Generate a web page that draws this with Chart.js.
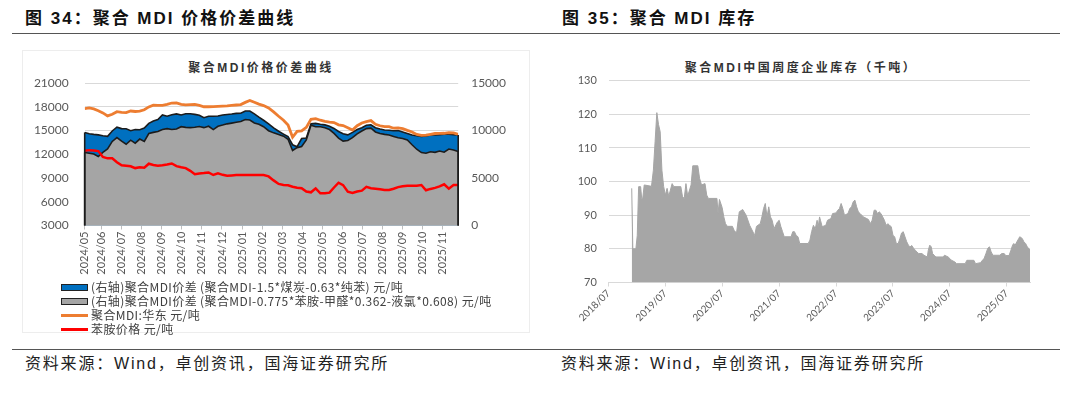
<!DOCTYPE html>
<html><head><meta charset="utf-8">
<script src="https://cdn.jsdelivr.net/npm/chart.js@4.4.1/dist/chart.umd.min.js"></script>
<style>
html,body{margin:0;padding:0;background:#fff;}
body{width:1080px;height:396px;position:relative;overflow:hidden;font-family:"Noto Sans CJK SC",sans-serif;}
.abs{position:absolute;white-space:nowrap;}
.ptitle{font-family:"Liberation Sans","Noto Sans CJK SC",sans-serif;font-weight:700;font-size:17px;line-height:20px;letter-spacing:2px;color:#111;top:9px;}
.rule{position:absolute;left:12px;width:1048px;height:0;border-top:1.5px solid #555;}
.ctitle{font-family:"Liberation Sans","Noto Sans CJK SC",sans-serif;font-weight:700;font-size:12px;line-height:14px;letter-spacing:2.5px;color:#333;top:61px;transform:translateX(-50%);}
.src{font-family:"Liberation Sans","Noto Sans CJK SC",sans-serif;font-size:16px;line-height:20px;letter-spacing:1.8px;color:#222;top:354px;}
.leg{left:61px;top:280px;font-size:12px;line-height:14px;letter-spacing:0.4px;color:#404040;}
.row{height:14px;display:flex;align-items:center;white-space:nowrap;}
.box{width:27px;height:7px;box-sizing:border-box;border:1.5px solid #222;margin-right:3px;}
.ln{width:27px;height:3px;margin-right:3px;}
canvas{position:absolute;}
</style></head>
<body>
<div class="abs ptitle" style="left:25px;">图 34：聚合 MDI 价格价差曲线</div>
<div class="abs ptitle" style="left:562px;">图 35：聚合 MDI 库存</div>
<div class="rule" style="top:33px;"></div>
<div class="abs" style="left:22px;top:50px;width:508px;height:283px;border:1px solid #ededed;box-sizing:border-box;"></div>
<div class="abs ctitle" style="left:261px;">聚合MDI价格价差曲线</div>
<div class="abs ctitle" style="left:801px;">聚合MDI中国周度企业库存（千吨）</div>
<canvas id="c1" width="508" height="232" style="left:22px;top:50px;width:508px;height:232px;"></canvas>
<canvas id="c2" width="515" height="300" style="left:545px;top:40px;width:515px;height:300px;"></canvas>
<div class="abs leg">
  <div class="row"><div class="box" style="background:#0070C0"></div><span id="l0"></span></div>
  <div class="row"><div class="box" style="background:#A5A5A5"></div><span id="l1"></span></div>
  <div class="row"><div class="ln" style="background:#ED7D31"></div><span id="l2"></span></div>
  <div class="row"><div class="ln" style="background:#FF0000"></div><span id="l3"></span></div>
</div>
<div class="rule" style="top:349px;"></div>
<div class="abs src" style="left:25px;">资料来源：Wind，卓创资讯，国海证券研究所</div>
<div class="abs src" style="left:561px;">资料来源：Wind，卓创资讯，国海证券研究所</div>
<script>
// ---------- Figure 34 data ----------
const spreadDates = [
'2024/05/06','2024/05/13','2024/05/20','2024/05/27',
'2024/06/03','2024/06/10','2024/06/17','2024/06/24',
'2024/07/01','2024/07/08','2024/07/15','2024/07/22','2024/07/29',
'2024/08/05','2024/08/12','2024/08/19','2024/08/26',
'2024/09/02','2024/09/09','2024/09/16','2024/09/23','2024/09/30',
'2024/10/07','2024/10/14','2024/10/21','2024/10/28',
'2024/11/04','2024/11/11','2024/11/18','2024/11/25',
'2024/12/02','2024/12/09','2024/12/16','2024/12/23','2024/12/30',
'2025/01/06','2025/01/13','2025/01/20','2025/01/27',
'2025/02/03','2025/02/10','2025/02/17','2025/02/24',
'2025/03/03','2025/03/10','2025/03/17','2025/03/24','2025/03/31',
'2025/04/07','2025/04/14','2025/04/21','2025/04/28',
'2025/05/05','2025/05/12','2025/05/19','2025/05/26',
'2025/06/02','2025/06/09','2025/06/16','2025/06/23','2025/06/30',
'2025/07/07','2025/07/14','2025/07/21','2025/07/28',
'2025/08/04','2025/08/11','2025/08/18','2025/08/25',
'2025/09/01','2025/09/08','2025/09/15','2025/09/22','2025/09/29',
'2025/10/06','2025/10/13','2025/10/20','2025/10/27',
'2025/11/03','2025/11/10','2025/11/17','2025/11/24'];
const mdiEastChina = [
17750,17850,17720,17500,
17220,16850,17050,17380,
17300,17250,17460,17400,17450,
17620,17980,18200,18170,
18180,18290,18470,18480,18300,
18240,18260,18290,18180,
18000,18000,18010,18050,
18090,18120,18170,18220,18270,
18550,18800,18560,18330,
18150,17850,17350,16800,
16300,15700,14150,14900,14950,
15400,16420,16500,16300,
16150,16050,16000,15720,
15620,15350,15060,15600,15950,
16130,16250,15790,15600,
15480,15480,15290,15330,
15240,15020,14820,14500,14390,
14420,14520,14620,14640,
14650,14740,14700,14520];
const spreadCoalBenzene = [
9800,9660,9590,9540,
9450,9380,9950,10350,
10200,10180,9980,10100,10080,
10250,10750,11000,11150,
11630,11500,11650,11750,11630,
11760,11760,11700,11600,
11350,11500,11500,11520,
11630,11680,11730,11800,11810,
12050,12050,11750,11400,
11080,10700,10280,9920,
9620,9350,8500,8300,9150,
9200,10700,10750,10650,
10590,10450,10220,9900,
9650,9540,9800,10100,10300,
10550,10600,10300,10150,
10050,10030,9970,10000,
9850,9680,9520,9450,9380,
9420,9530,9526,9560,
9600,9600,9570,9520];
const spreadAnilineChain = [
7680,7610,7520,7260,
7700,8050,8850,9250,
8880,8550,8980,8670,9100,
8850,9680,9800,9900,
10100,10200,10100,10150,10400,
10330,10300,10350,10420,
10300,10450,10100,10450,
10570,10700,10780,10860,10950,
11150,11100,10800,10650,
10400,9980,9750,9580,
9400,9080,7900,8200,8320,
9000,10550,10400,10400,
10300,10100,9700,9200,
8880,8950,9250,9650,9950,
10200,10250,9850,9690,
9595,9530,9380,9240,
9160,9000,8500,8030,7680,
7600,7760,7700,7840,
7720,8050,7950,7780];
const anilinePrice = [
12450,12520,12480,12400,
11650,11480,11480,11000,
10600,10550,10480,10250,10350,
10300,10800,10640,10560,
10620,10700,10830,10500,10350,
10250,9900,9470,9580,
9620,9700,9380,9580,
9400,9290,9330,9378,9378,
9378,9378,9378,9378,
9378,9200,8700,8250,
8115,8080,7900,7780,7720,
7300,7190,7690,7070,
7063,7150,7800,8400,
8100,7270,7100,7290,7400,
7880,7700,7640,7580,
7484,7484,7650,7850,
7950,8030,8030,8030,8110,
7450,7620,7750,7950,
8200,7650,8110,8110];
const spreadMonthLabels = ['2024/05','2024/06','2024/07','2024/08','2024/09','2024/10','2024/11','2024/12',
'2025/01','2025/02','2025/03','2025/04','2025/05','2025/06','2025/07','2025/08','2025/09','2025/10','2025/11'];
const spreadSeriesNames = [
'(右轴)聚合MDI价差 (聚合MDI-1.5*煤炭-0.63*纯苯) 元/吨',
'(右轴)聚合MDI价差 (聚合MDI-0.775*苯胺-甲醛*0.362-液氯*0.608) 元/吨',
'聚合MDI:华东 元/吨',
'苯胺价格 元/吨'];

// ---------- Figure 35 data ----------
const inventoryDates = [
'2018/11/28','2018/12/05','2018/12/25','2019/01/03','2019/01/12','2019/01/25','2019/02/01','2019/02/07','2019/02/16',
'2019/04/03','2019/04/15','2019/04/26','2019/05/07','2019/05/18','2019/05/29','2019/06/09','2019/06/20',
'2019/07/01','2019/07/12','2019/07/23','2019/08/03','2019/08/14','2019/08/25','2019/10/09','2019/10/20','2019/10/31',
'2019/11/11','2019/11/22','2019/12/14','2019/12/25','2020/01/27','2020/02/07','2020/02/19','2020/03/12','2020/03/23',
'2020/04/03','2020/05/28','2020/06/04','2020/06/13','2020/06/30','2020/07/11','2020/07/22','2020/08/03','2020/09/05',
'2020/09/16','2020/10/01','2020/10/19','2020/11/10','2020/12/02','2020/12/25','2021/01/16','2021/01/27','2021/02/07',
'2021/03/01','2021/03/12','2021/03/23','2021/04/03','2021/04/14','2021/04/25','2021/05/06','2021/05/17','2021/05/29',
'2021/06/20','2021/07/01','2021/07/12','2021/07/23','2021/08/03','2021/09/16','2021/09/27','2021/10/08','2021/10/19',
'2021/10/31','2021/11/11','2022/01/05','2022/01/16','2022/01/27','2022/02/07','2022/02/18','2022/03/01','2022/03/08',
'2022/03/17','2022/03/23','2022/04/03','2022/04/26','2022/05/07','2022/05/29','2022/06/09','2022/07/01','2022/07/12',
'2022/07/23','2022/08/03','2022/08/14','2022/08/25','2022/09/16','2022/09/28','2022/10/09','2022/10/20','2022/10/31',
'2022/11/11','2022/11/22','2022/12/03','2022/12/25','2023/01/16','2023/01/27','2023/02/07','2023/02/18','2023/03/02',
'2023/03/13','2023/03/24','2023/04/04','2023/04/15','2023/04/26','2023/05/07','2023/05/18','2023/05/29','2023/06/09',
'2023/06/20','2023/07/01','2023/07/12','2023/07/23','2023/08/04','2023/08/15','2023/08/26','2023/09/06','2023/09/17',
'2023/09/28','2023/10/09','2023/10/20','2023/10/31','2023/11/11','2023/11/22','2023/12/03','2023/12/14','2024/01/06',
'2024/01/17','2024/02/08','2024/02/14','2024/02/23','2024/03/03','2024/03/12','2024/03/23','2024/04/03','2024/05/17',
'2024/05/28','2024/06/20','2024/07/01','2024/07/12','2024/08/03','2024/08/14','2024/10/08','2024/10/19','2024/12/03',
'2024/12/14','2025/01/16','2025/01/27','2025/02/07','2025/02/18','2025/03/01','2025/03/12','2025/03/23','2025/04/03',
'2025/05/18','2025/05/29','2025/06/15','2025/06/24','2025/07/16','2025/07/28','2025/08/08','2025/08/16','2025/08/25',
'2025/09/05','2025/09/16','2025/09/23','2025/10/09','2025/10/20','2025/10/31','2025/11/11','2025/11/28'];
const inventoryValues = [
98.0,80.0,80.0,84.0,98.5,98.5,95.0,95.0,99.0,
98.6,103.4,112.0,120.5,117.0,114.8,103.4,98.5,
96.0,98.0,95.7,97.5,99.4,98.5,98.5,95.5,95.0,
99.4,95.7,99.0,104.7,104.7,101.0,99.0,99.4,96.0,
95.0,95.0,90.5,94.7,92.3,89.5,87.5,86.7,86.7,
85.5,84.7,91.0,91.7,90.0,87.0,85.0,84.0,86.7,
87.5,89.5,92.0,93.5,89.5,92.5,89.5,88.5,86.0,
88.0,88.5,86.6,85.1,83.6,83.6,85.1,85.1,84.0,
83.6,81.6,81.6,82.6,85.1,87.0,86.0,88.5,86.5,
89.5,88.5,86.6,87.0,88.5,89.0,90.5,90.7,91.5,
92.0,93.5,92.0,90.0,90.5,92.0,92.5,94.0,94.5,
92.5,91.0,90.5,89.5,89.0,88.7,87.5,88.5,91.5,
91.5,90.5,91.0,90.5,89.5,88.5,87.0,87.5,87.0,
86.6,84.0,83.6,81.6,81.6,83.0,84.7,85.1,83.6,
82.1,81.1,80.6,81.0,80.2,79.6,79.1,78.6,78.6,
78.1,77.6,79.6,81.1,80.6,78.6,78.1,77.6,77.6,
78.1,77.6,77.1,76.6,76.1,75.6,75.6,76.6,76.6,
75.6,75.9,76.6,77.1,78.6,80.2,80.6,79.1,78.1,
78.1,78.6,78.6,78.0,78.0,79.6,81.1,81.6,81.1,
82.1,83.0,83.6,83.1,82.1,81.6,80.6,79.6];
const inventoryTickLabels = ['2018/07','2019/07','2020/07','2021/07','2022/07','2023/07','2024/07','2025/07'];

// ---------- helpers ----------
function monthPos(dateStr, baseY, baseM) {
  const p = dateStr.split('/').map(Number);
  const dim = new Date(p[0], p[1], 0).getDate();
  return (p[0] - baseY) * 12 + (p[1] - baseM) + (p[2] - 1) / dim;
}
const spreadX = spreadDates.map(d => monthPos(d, 2024, 5));
const invX = inventoryDates.map(d => monthPos(d, 2018, 7));
const pairs = (xs, ys) => xs.map((x, i) => ({x: x, y: ys[i]}));
const plain = v => String(v);

['l0','l1','l2','l3'].forEach((id, i) => { document.getElementById(id).textContent = spreadSeriesNames[i]; });

const tickFont = {family: 'Lato, "Liberation Sans", sans-serif'};

const edgePlugin = {
  id: 'areaEdges',
  afterDatasetsDraw(chart) {
    const ctx = chart.ctx, bottom = chart.chartArea.bottom;
    chart.data.datasets.forEach((ds, i) => {
      if (!ds.edgeLines) return;
      const pts = chart.getDatasetMeta(i).data;
      [pts[0], pts[pts.length - 1]].forEach(p => {
        ctx.save();
        ctx.strokeStyle = ds.borderColor; ctx.lineWidth = ds.borderWidth;
        ctx.beginPath(); ctx.moveTo(p.x, p.y); ctx.lineTo(p.x, bottom); ctx.stroke();
        ctx.restore();
      });
    });
  }
};

new Chart(document.getElementById('c1'), {
  type: 'line',
  data: {
    datasets: [
      {label: spreadSeriesNames[0], data: pairs(spreadX, spreadCoalBenzene), yAxisID: 'y1',
       borderColor: '#1c1c1c', borderWidth: 1.6, backgroundColor: '#0070C0', fill: 'start',
       pointRadius: 0, tension: 0, order: 4, edgeLines: true},
      {label: spreadSeriesNames[1], data: pairs(spreadX, spreadAnilineChain), yAxisID: 'y1',
       borderColor: '#1c1c1c', borderWidth: 1.6, backgroundColor: '#A5A5A5', fill: 'start',
       pointRadius: 0, tension: 0, order: 3, edgeLines: true},
      {label: spreadSeriesNames[2], data: pairs(spreadX, mdiEastChina), yAxisID: 'y',
       borderColor: '#ED7D31', borderWidth: 2.8, fill: false, pointRadius: 0, tension: 0, order: 2},
      {label: spreadSeriesNames[3], data: pairs(spreadX, anilinePrice), yAxisID: 'y',
       borderColor: '#FF0000', borderWidth: 2.5, fill: false, pointRadius: 0, tension: 0, order: 1}
    ]
  },
  options: {
    responsive: false, animation: false, devicePixelRatio: 1,
    layout: {padding: {top: 33, left: 0, right: 0, bottom: 0}},
    plugins: {legend: {display: false}, tooltip: {enabled: false}},
    scales: {
      x: {
        type: 'linear', min: spreadX[0], max: spreadX[spreadX.length - 1],
        afterBuildTicks: s => { s.ticks = spreadMonthLabels.map((_, i) => ({value: i === 0 ? s.min : i})); },
        ticks: {autoSkip: false, minRotation: 90, maxRotation: 90, padding: 2, color: '#595959',
                font: Object.assign({size: 11}, tickFont),
                callback: v => spreadMonthLabels[Math.floor(v + 1e-6)]},
        grid: {display: true, drawOnChartArea: false, drawTicks: true, tickLength: 4, color: '#bfbfbf'},
        border: {display: true, color: '#bfbfbf'},
        afterFit: s => { s.height = 56.5; }
      },
      y: {
        position: 'left', min: 3000, max: 21000,
        ticks: {stepSize: 3000, color: '#595959', padding: 16, font: Object.assign({size: 12}, tickFont), callback: plain},
        grid: {color: '#d9d9d9', drawTicks: false}, border: {display: false},
        afterFit: s => { s.width = 62.7; }
      },
      y1: {
        position: 'right', min: 0, max: 15000,
        ticks: {stepSize: 5000, color: '#595959', padding: 13, font: Object.assign({size: 12}, tickFont), callback: plain},
        grid: {display: false, drawTicks: false}, border: {display: false},
        afterFit: s => { s.width = 71.8; }
      }
    }
  },
  plugins: [edgePlugin]
});

new Chart(document.getElementById('c2'), {
  type: 'line',
  data: {
    datasets: [
      {label: '聚合MDI中国周度企业库存（千吨）', data: pairs(invX, inventoryValues),
       borderColor: '#A6A6A6', borderWidth: 1, backgroundColor: '#A6A6A6', fill: 'start',
       pointRadius: 0, tension: 0}
    ]
  },
  options: {
    responsive: false, animation: false, devicePixelRatio: 1,
    layout: {padding: {top: 40.7, left: 0, right: 30, bottom: 0}},
    plugins: {legend: {display: false}, tooltip: {enabled: false}},
    scales: {
      x: {
        type: 'linear', min: 0, max: invX[invX.length - 1],
        afterBuildTicks: s => { s.ticks = inventoryTickLabels.map((_, i) => ({value: i * 12})); },
        ticks: {autoSkip: false, minRotation: 45, maxRotation: 45, padding: 1, color: '#595959',
                font: Object.assign({size: 10}, tickFont),
                callback: v => inventoryTickLabels[Math.round(v / 12)]},
        grid: {display: true, drawOnChartArea: false, drawTicks: true, tickLength: 4, color: '#d9d9d9'},
        border: {display: true, color: '#d9d9d9'},
        afterFit: s => { s.height = 57.5; }
      },
      y: {
        min: 70, max: 130,
        ticks: {stepSize: 10, color: '#595959', padding: 11.7, font: Object.assign({size: 11}, tickFont), callback: plain},
        grid: {color: '#d9d9d9', drawTicks: false}, border: {display: false},
        afterFit: s => { s.width = 63.5; }
      }
    }
  }
});
</script>
</body></html>
